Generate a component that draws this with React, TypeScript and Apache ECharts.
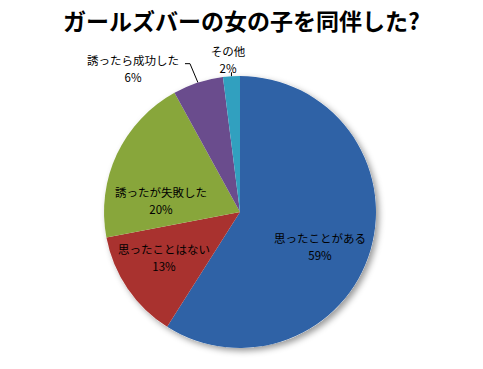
import React, { useEffect, useRef } from "react";
import * as echarts from "echarts";

const titleText = "ガールズバーの女の子を同伴した?";
const categories = ["思ったことがある", "思ったことはない", "誘ったが失敗した", "誘ったら成功した", "その他"];
const values = [59, 13, 20, 6, 2];
const colors = ["#2f62a6", "#a9322f", "#88a63b", "#6a4c8d", "#31a0bf"];

// layout (pixels, page coordinates)
const CX = 240;
const CY = 212;
const R = 136;
const labelPos: [number, number][] = [
  [320, 246],
  [164, 257],
  [161, 200],
  [133, 68],
  [228, 59],
];
// leader line bend offsets for outside labels: [elbow dx, elbow dy, end dx, end dy] relative to edge point
const leader: (number[] | null)[] = [null, null, null, [-8, -19, -13, -19], [0, -4, 0, -4]];

export default function App() {
  const ref = useRef<HTMLDivElement>(null);
  useEffect(() => {
    if (!ref.current) return;
    const chart = echarts.init(ref.current, undefined, { renderer: "svg" });
    const font = "'Noto Sans CJK JP', 'Noto Sans', sans-serif";
    const total = values.reduce((a, b) => a + b, 0);
    const mids: number[] = [];
    let acc = 0;
    values.forEach((v) => {
      mids.push(((acc + v / 2) / total) * Math.PI * 2);
      acc += v;
    });
    chart.setOption({
      animation: false,
      backgroundColor: "#ffffff",
      title: {
        text: titleText,
        left: "center",
        top: 6,
        padding: 0,
        textStyle: { fontFamily: font, fontSize: 23, fontWeight: "bold", color: "#000", lineHeight: 28 },
      },
      series: [
        {
          type: "pie",
          silent: true,
          center: [CX, CY],
          radius: R,
          z: 1,
          label: { show: false },
          labelLine: { show: false },
          itemStyle: {
            color: "#ffffff",
            shadowBlur: 6,
            shadowOffsetX: 3,
            shadowOffsetY: 3,
            shadowColor: "rgba(0,0,0,0.4)",
          },
          data: [{ value: 1, name: "" }],
        },
        {
          type: "pie",
          center: [CX, CY],
          radius: R,
          startAngle: 90,
          clockwise: true,
          z: 2,
          avoidLabelOverlap: false,
          itemStyle: { borderWidth: 0 },
          label: {
            show: true,
            position: "outside",
            fontFamily: font,
            fontSize: 11.5,
            color: "#000",
            lineHeight: 17,
            align: "center",
            formatter: (p: any) => `${p.name}\n${p.value}%`,
          },
          labelLine: {
            show: true,
            length: 8,
            length2: 4,
            lineStyle: { color: "#000", width: 1 },
          },
          labelLayout: (p: any) => {
            const i = p.dataIndex;
            const pos = labelPos[i];
            const out: any = { x: pos[0], y: pos[1], align: "center", verticalAlign: "middle" };
            const l = leader[i];
            if (l) {
              const ex = CX + R * Math.sin(mids[i]);
              const ey = CY - R * Math.cos(mids[i]);
              out.labelLinePoints = [
                [ex, ey],
                [ex + l[0], ey + l[1]],
                [ex + l[2], ey + l[3]],
              ];
            }
            return out;
          },
          data: categories.map((c, i) => ({
            name: c,
            value: values[i],
            itemStyle: { color: colors[i] },
            labelLine: { show: i >= 3 },
          })),
        },
      ],
    });
    return () => chart.dispose();
  }, []);
  return <div ref={ref} style={{ width: 483, height: 369, margin: -8 }} />;
}
